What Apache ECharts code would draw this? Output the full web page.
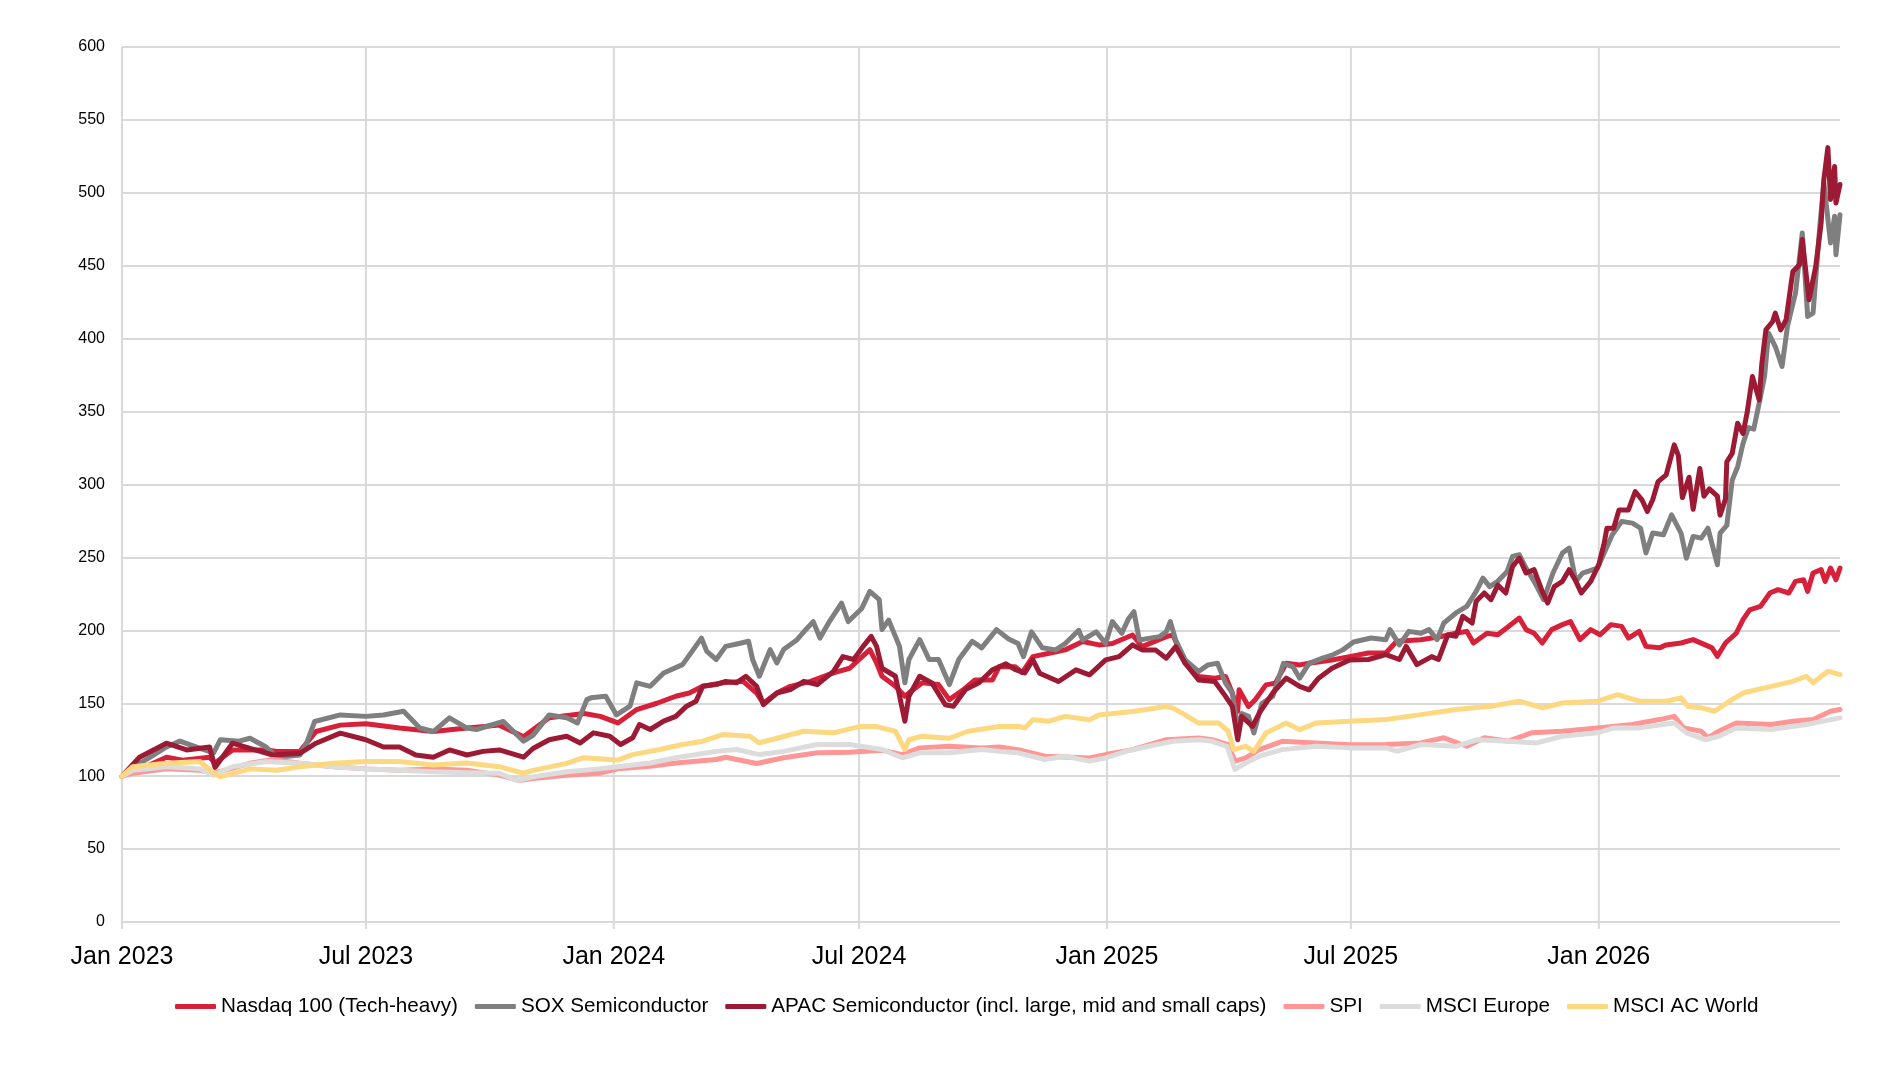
<!DOCTYPE html>
<html>
<head>
<meta charset="utf-8">
<title>Index performance</title>
<script src="https://cdn.jsdelivr.net/npm/echarts@6/dist/echarts.min.js"></script>
<style>
    html, body { margin: 0; padding: 0; background: #fff; }
    #chart { width: 1902px; height: 1066px; }
</style>
</head>
<body>
<div id="chart"></div>
<script>
var seriesNames = [
    'Nasdaq 100 (Tech-heavy)',
    'SOX Semiconductor',
    'APAC Semiconductor (incl. large, mid and small caps)',
    'SPI',
    'MSCI Europe',
    'MSCI AC World'
];

var seriesColors = ['#d7203a', '#7f7f7f', '#9c1a33', '#ff9696', '#dcdcdc', '#fcd881'];

var tickDates = ['2023-01-01', '2023-07-01', '2024-01-01', '2024-07-01', '2025-01-01', '2025-07-01', '2026-01-01'];
var tickLabels = ['Jan 2023', 'Jul 2023', 'Jan 2024', 'Jul 2024', 'Jan 2025', 'Jul 2025', 'Jan 2026'];

var nasdaq = [
    ['2023-01-01', 100], ['2023-01-09', 104], ['2023-01-22', 108], ['2023-02-03', 113], ['2023-02-15', 111],
    ['2023-03-07', 113], ['2023-03-11', 109], ['2023-03-24', 118], ['2023-04-18', 118], ['2023-04-26', 117],
    ['2023-05-13', 117], ['2023-05-25', 130.6], ['2023-06-12', 135], ['2023-07-01', 136], ['2023-07-26', 133],
    ['2023-08-20', 130.6], ['2023-09-14', 133], ['2023-10-08', 135], ['2023-10-26', 127], ['2023-11-14', 140],
    ['2023-12-10', 143], ['2023-12-22', 141],
    ['2024-01-04', 136.5], ['2024-01-18', 145.7], ['2024-02-02', 150], ['2024-02-16', 154.8], ['2024-02-26', 157],
    ['2024-03-07', 161.6], ['2024-03-22', 164], ['2024-04-06', 165], ['2024-04-16', 157], ['2024-04-21', 150],
    ['2024-05-01', 157], ['2024-05-11', 161.6], ['2024-05-26', 165], ['2024-06-12', 170.8], ['2024-06-24', 174],
    ['2024-07-09', 186.8], ['2024-07-14', 177.6], ['2024-07-18', 168.5], ['2024-07-28', 161.6], ['2024-08-04', 154.8],
    ['2024-08-07', 157], ['2024-08-17', 164], ['2024-08-29', 162.8], ['2024-09-06', 152.5], ['2024-09-16', 159],
    ['2024-09-25', 166], ['2024-10-08', 166], ['2024-10-13', 175], ['2024-10-25', 175], ['2024-10-30', 171],
    ['2024-11-07', 182], ['2024-11-19', 184.3], ['2024-12-01', 186.6], ['2024-12-14', 192.3], ['2024-12-26', 190],
    ['2025-01-05', 191], ['2025-01-20', 196.8], ['2025-01-27', 188.8], ['2025-02-14', 195.7], ['2025-02-19', 196.8],
    ['2025-02-28', 177.4], ['2025-03-10', 168.3], ['2025-03-22', 167.2], ['2025-03-30', 168.3], ['2025-04-04', 157],
    ['2025-04-08', 144.4], ['2025-04-09', 159.2], ['2025-04-16', 147.8], ['2025-04-21', 152.4], ['2025-04-29', 162.6],
    ['2025-05-06', 163.8], ['2025-05-14', 177.4], ['2025-05-24', 176.3], ['2025-05-31', 177.4], ['2025-06-17', 179.7],
    ['2025-06-30', 182], ['2025-07-14', 184.5], ['2025-07-27', 184.5], ['2025-08-04', 192.5], ['2025-08-22', 193.6],
    ['2025-09-07', 196], ['2025-09-17', 198], ['2025-09-25', 199.3], ['2025-09-30', 191.3], ['2025-10-10', 198],
    ['2025-10-18', 197], ['2025-10-26', 202.7], ['2025-11-03', 208.4], ['2025-11-08', 200.5], ['2025-11-14', 198],
    ['2025-11-20', 191.3], ['2025-11-27', 200.5], ['2025-12-05', 203.9], ['2025-12-11', 206], ['2025-12-18', 193.6],
    ['2025-12-26', 200.5],
    ['2026-01-02', 197], ['2026-01-10', 203.9], ['2026-01-18', 202.7], ['2026-01-23', 194.7], ['2026-01-31', 199.3],
    ['2026-02-05', 189], ['2026-02-15', 188], ['2026-02-20', 190], ['2026-03-03', 191.3], ['2026-03-12', 193.6],
    ['2026-03-21', 190], ['2026-03-26', 188], ['2026-03-30', 182.2], ['2026-04-05', 191.3], ['2026-04-13', 198],
    ['2026-04-18', 207.3], ['2026-04-23', 214], ['2026-05-01', 216.4], ['2026-05-08', 225.6], ['2026-05-14', 227.9],
    ['2026-05-22', 225.6], ['2026-05-27', 233.6], ['2026-06-02', 234.7], ['2026-06-05', 226.7], ['2026-06-09', 239.3],
    ['2026-06-15', 241.6], ['2026-06-18', 233.6], ['2026-06-22', 242.7], ['2026-06-26', 234.7], ['2026-06-29', 242.7]
];

var sox = [
    ['2023-01-01', 100], ['2023-01-09', 106], ['2023-01-22', 113], ['2023-02-03', 120], ['2023-02-13', 124],
    ['2023-02-28', 119], ['2023-03-10', 116], ['2023-03-15', 125], ['2023-03-29', 124], ['2023-04-06', 126],
    ['2023-04-18', 120], ['2023-04-26', 113], ['2023-05-13', 114.5], ['2023-05-18', 122.6], ['2023-05-24', 137.5],
    ['2023-06-12', 142], ['2023-07-01', 141], ['2023-07-14', 142], ['2023-07-29', 144.5], ['2023-08-10', 133],
    ['2023-08-20', 130.6], ['2023-09-01', 140], ['2023-09-14', 133], ['2023-09-21', 132], ['2023-10-11', 137.5],
    ['2023-10-26', 124], ['2023-11-02', 128], ['2023-11-14', 142], ['2023-11-27', 140], ['2023-12-05', 136.5],
    ['2023-12-12', 152.5], ['2023-12-15', 153.7], ['2023-12-26', 154.8],
    ['2024-01-03', 142], ['2024-01-13', 148], ['2024-01-18', 164], ['2024-01-28', 161.6], ['2024-02-07', 170.8],
    ['2024-02-21', 176.5], ['2024-02-29', 186.8], ['2024-03-06', 194.7], ['2024-03-10', 185.6], ['2024-03-17', 180],
    ['2024-03-24', 189], ['2024-04-03', 191], ['2024-04-10', 192.5], ['2024-04-13', 180], ['2024-04-18', 168.5],
    ['2024-04-26', 186.8], ['2024-05-01', 177.6], ['2024-05-06', 186.8], ['2024-05-16', 193.6], ['2024-05-21', 199],
    ['2024-05-28', 206], ['2024-06-02', 194.7], ['2024-06-09', 206], ['2024-06-18', 218.7], ['2024-06-23', 206],
    ['2024-07-03', 215], ['2024-07-09', 226.7], ['2024-07-16', 221], ['2024-07-18', 200.5], ['2024-07-23', 207],
    ['2024-07-31', 189], ['2024-08-04', 164], ['2024-08-07', 180], ['2024-08-15', 193.6], ['2024-08-22', 180],
    ['2024-08-29', 180], ['2024-09-06', 162.8], ['2024-09-13', 180], ['2024-09-23', 192.5], ['2024-09-30', 188],
    ['2024-10-11', 200.5], ['2024-10-20', 194], ['2024-10-27', 191], ['2024-10-31', 182], ['2024-11-06', 199],
    ['2024-11-14', 188], ['2024-11-24', 186.6], ['2024-12-01', 191], ['2024-12-11', 200], ['2024-12-14', 193.4],
    ['2024-12-24', 199], ['2024-12-31', 191],
    ['2025-01-05', 206], ['2025-01-12', 198], ['2025-01-17', 208], ['2025-01-21', 212.8], ['2025-01-25', 193.4],
    ['2025-02-01', 194.5], ['2025-02-09', 195.7], ['2025-02-14', 199], ['2025-02-17', 206], ['2025-02-21', 193.4],
    ['2025-02-28', 179.7], ['2025-03-10', 171.8], ['2025-03-17', 176.3], ['2025-03-24', 177.4], ['2025-03-30', 163.8],
    ['2025-04-04', 157], ['2025-04-08', 132], ['2025-04-11', 143], ['2025-04-16', 141], ['2025-04-20', 129.6],
    ['2025-04-26', 150], ['2025-05-04', 154.7], ['2025-05-12', 177.4], ['2025-05-19', 175], ['2025-05-24', 167.2],
    ['2025-05-31', 177.4], ['2025-06-10', 180.9], ['2025-06-17', 183], ['2025-06-25', 186.6], ['2025-07-03', 192],
    ['2025-07-16', 194.7], ['2025-07-27', 193.6], ['2025-07-30', 200.5], ['2025-08-06', 190], ['2025-08-13', 199.3],
    ['2025-08-22', 198], ['2025-08-28', 200.5], ['2025-09-03', 193.6], ['2025-09-08', 205], ['2025-09-17', 211.9],
    ['2025-09-25', 216.4], ['2025-10-02', 226.7], ['2025-10-07', 235.8], ['2025-10-12', 230], ['2025-10-18', 233.6],
    ['2025-10-25', 240.4], ['2025-10-29', 250.7], ['2025-11-03', 251.8], ['2025-11-08', 242.7], ['2025-11-14', 233.6],
    ['2025-11-21', 221], ['2025-11-28', 239.3], ['2025-12-05', 253], ['2025-12-10', 256.4], ['2025-12-15', 233.6],
    ['2025-12-20', 239.3], ['2025-12-31', 242.7],
    ['2026-01-05', 253], ['2026-01-11', 265.5], ['2026-01-18', 274.7], ['2026-01-26', 273.5], ['2026-02-01', 270],
    ['2026-02-05', 253], ['2026-02-10', 266.7], ['2026-02-18', 265.5], ['2026-02-24', 279.2], ['2026-03-03', 266.7],
    ['2026-03-07', 249.5], ['2026-03-12', 264.4], ['2026-03-18', 263.2], ['2026-03-23', 270], ['2026-03-30', 245],
    ['2026-04-01', 266.7], ['2026-04-06', 272], ['2026-04-10', 303], ['2026-04-14', 312], ['2026-04-18', 328],
    ['2026-04-22', 339], ['2026-04-26', 338], ['2026-04-30', 355.7], ['2026-05-04', 374], ['2026-05-07', 403.8],
    ['2026-05-12', 394.6], ['2026-05-17', 380.9], ['2026-05-21', 408.4], ['2026-05-27', 431.3], ['2026-06-01', 472.5],
    ['2026-06-05', 415.2], ['2026-06-09', 417.5], ['2026-06-14', 477], ['2026-06-17', 506.9], ['2026-06-22', 465.6],
    ['2026-06-25', 484], ['2026-06-26', 457.6], ['2026-06-29', 485]
];

var apac = [
    ['2023-01-01', 100], ['2023-01-14', 113], ['2023-02-03', 122.6], ['2023-02-18', 118], ['2023-03-07', 120],
    ['2023-03-11', 106], ['2023-03-24', 122.6], ['2023-04-06', 119], ['2023-04-23', 114.5], ['2023-05-13', 115.7],
    ['2023-05-25', 122.6], ['2023-06-12', 129.5], ['2023-07-01', 125], ['2023-07-14', 120], ['2023-07-26', 120],
    ['2023-08-07', 114.5], ['2023-08-20', 113], ['2023-09-01', 118], ['2023-09-14', 114.5], ['2023-09-26', 117],
    ['2023-10-08', 118], ['2023-10-26', 113], ['2023-11-02', 119], ['2023-11-14', 125], ['2023-11-27', 127.4],
    ['2023-12-07', 122.8], ['2023-12-17', 129.7], ['2023-12-29', 127.4],
    ['2024-01-06', 121.7], ['2024-01-15', 126.3], ['2024-01-20', 135.4], ['2024-01-28', 132], ['2024-02-07', 137.7],
    ['2024-02-16', 141], ['2024-02-24', 148], ['2024-03-02', 151.4], ['2024-03-07', 161.6], ['2024-03-17', 162.8],
    ['2024-03-24', 165], ['2024-04-01', 164], ['2024-04-08', 168.5], ['2024-04-16', 161.6], ['2024-04-21', 149],
    ['2024-05-01', 157], ['2024-05-11', 159.4], ['2024-05-21', 165], ['2024-05-31', 162.8], ['2024-06-12', 171.9],
    ['2024-06-19', 182], ['2024-06-27', 180], ['2024-07-04', 189], ['2024-07-10', 195.9], ['2024-07-14', 189],
    ['2024-07-18', 174], ['2024-07-28', 168.5], ['2024-08-04', 137.7], ['2024-08-07', 154.8], ['2024-08-15', 168.5],
    ['2024-08-24', 164], ['2024-09-03', 149], ['2024-09-09', 148], ['2024-09-18', 159.4], ['2024-09-28', 164],
    ['2024-10-08', 173], ['2024-10-18', 177], ['2024-10-25', 173], ['2024-11-01', 170.8], ['2024-11-07', 179.7],
    ['2024-11-12', 170.6], ['2024-11-26', 164.9], ['2024-12-09', 172.9], ['2024-12-19', 169.5], ['2024-12-31', 179.7],
    ['2025-01-10', 182], ['2025-01-20', 190], ['2025-01-27', 186.6], ['2025-02-06', 186.6], ['2025-02-14', 180.9],
    ['2025-02-21', 188.8], ['2025-02-28', 177.4], ['2025-03-10', 166], ['2025-03-22', 164.9], ['2025-03-30', 154.7],
    ['2025-04-04', 147.8], ['2025-04-08', 125], ['2025-04-11', 141], ['2025-04-19', 134.2], ['2025-04-24', 143.3],
    ['2025-05-04', 157], ['2025-05-14', 167.2], ['2025-05-24', 161.5], ['2025-05-31', 159.2], ['2025-06-07', 167.2],
    ['2025-06-17', 174], ['2025-06-30', 179.7], ['2025-07-14', 180], ['2025-07-27', 183.3], ['2025-08-06', 180],
    ['2025-08-11', 189], ['2025-08-19', 176.5], ['2025-08-30', 182], ['2025-09-04', 180], ['2025-09-11', 197],
    ['2025-09-17', 196], ['2025-09-22', 209.6], ['2025-09-29', 205], ['2025-10-02', 220], ['2025-10-08', 225.6],
    ['2025-10-13', 221], ['2025-10-18', 231], ['2025-10-24', 225.6], ['2025-10-29', 243.8], ['2025-11-03', 249.5],
    ['2025-11-08', 239.3], ['2025-11-14', 241.6], ['2025-11-20', 226.7], ['2025-11-24', 218.7], ['2025-11-29', 230],
    ['2025-12-05', 233.6], ['2025-12-10', 241.6], ['2025-12-15', 233.6], ['2025-12-19', 225.6], ['2025-12-26', 233.6],
    ['2026-01-01', 245], ['2026-01-05', 259.8], ['2026-01-07', 270], ['2026-01-12', 270], ['2026-01-16', 282.6],
    ['2026-01-23', 282.6], ['2026-01-28', 295.2], ['2026-02-02', 289.5], ['2026-02-06', 281.5], ['2026-02-10', 289.5],
    ['2026-02-14', 302], ['2026-02-20', 306.6], ['2026-02-26', 327.2], ['2026-03-01', 320], ['2026-03-04', 291],
    ['2026-03-09', 305], ['2026-03-12', 283], ['2026-03-17', 311], ['2026-03-20', 292], ['2026-03-24', 297],
    ['2026-03-30', 292], ['2026-04-01', 279], ['2026-04-05', 290], ['2026-04-06', 315.6], ['2026-04-10', 321.3],
    ['2026-04-14', 342], ['2026-04-18', 335], ['2026-04-21', 348.8], ['2026-04-25', 374], ['2026-04-30', 358],
    ['2026-05-02', 383], ['2026-05-05', 406], ['2026-05-10', 411.8], ['2026-05-12', 417.5], ['2026-05-16', 406],
    ['2026-05-20', 413], ['2026-05-25', 446], ['2026-05-30', 450.7], ['2026-06-01', 468], ['2026-06-06', 426.7],
    ['2026-06-11', 449.6], ['2026-06-15', 479.4], ['2026-06-17', 509], ['2026-06-20', 531], ['2026-06-22', 495.4],
    ['2026-06-25', 518], ['2026-06-26', 493], ['2026-06-29', 505.7]
];

var spi = [
    ['2023-01-01', 100], ['2023-01-09', 102], ['2023-02-03', 105], ['2023-02-28', 104], ['2023-03-10', 102],
    ['2023-04-06', 108.8], ['2023-04-23', 111.5], ['2023-05-13', 108.8], ['2023-06-07', 106.5], ['2023-07-01', 105],
    ['2023-07-26', 104], ['2023-08-20', 105], ['2023-09-14', 104], ['2023-10-08', 100.7], ['2023-10-23', 97],
    ['2023-11-02', 98.4], ['2023-11-27', 100.7], ['2023-12-21', 102],
    ['2024-01-04', 105], ['2024-01-28', 106.8], ['2024-02-16', 109], ['2024-03-17', 111.4], ['2024-03-24', 113],
    ['2024-04-16', 108.7], ['2024-05-06', 112.6], ['2024-05-31', 116], ['2024-06-24', 116.4], ['2024-07-18', 117.8],
    ['2024-08-02', 114.8], ['2024-08-15', 119.4], ['2024-09-06', 120.5], ['2024-09-30', 119.4], ['2024-10-13', 120],
    ['2024-10-27', 118.2], ['2024-11-16', 113.7], ['2024-12-19', 112.5], ['2024-12-31', 114.8],
    ['2025-01-20', 118.2], ['2025-02-14', 125], ['2025-03-10', 126.2], ['2025-03-20', 125], ['2025-04-01', 121.6],
    ['2025-04-06', 110.3], ['2025-04-14', 112.5], ['2025-04-24', 118.2], ['2025-05-11', 123.9], ['2025-06-05', 122.8],
    ['2025-06-30', 121.6], ['2025-07-27', 121.7], ['2025-08-22', 122.8], ['2025-09-08', 126.3], ['2025-09-25', 120.5],
    ['2025-10-08', 126.3], ['2025-10-26', 124], ['2025-11-12', 129.7], ['2025-12-05', 130.8], ['2025-12-31', 133.1],
    ['2026-01-26', 135.4], ['2026-02-15', 138.8], ['2026-02-26', 141], ['2026-03-05', 133.1], ['2026-03-18', 130.8],
    ['2026-03-23', 126.3], ['2026-03-31', 130.8], ['2026-04-13', 136.5], ['2026-05-09', 135.4], ['2026-05-25', 137.7],
    ['2026-06-09', 138.8], ['2026-06-22', 144.5], ['2026-06-29', 145.7]
];

var msciEurope = [
    ['2023-01-01', 100], ['2023-01-09', 104], ['2023-02-03', 106.5], ['2023-02-28', 105], ['2023-03-10', 100.7],
    ['2023-03-24', 106.5], ['2023-04-18', 110], ['2023-05-13', 108.8], ['2023-06-07', 106.5], ['2023-07-01', 105],
    ['2023-07-26', 104], ['2023-08-20', 103], ['2023-09-14', 102.3], ['2023-10-08', 102], ['2023-10-21', 97],
    ['2023-11-02', 99.5], ['2023-11-27', 103], ['2023-12-21', 105],
    ['2024-01-04', 106.4], ['2024-01-28', 109], ['2024-02-16', 112.6], ['2024-03-17', 117], ['2024-04-01', 118.3],
    ['2024-04-18', 114.8], ['2024-05-06', 117], ['2024-05-31', 121.7], ['2024-06-24', 121.7], ['2024-07-18', 118.3],
    ['2024-08-02', 112.6], ['2024-08-15', 116], ['2024-09-06', 116], ['2024-09-30', 118.3], ['2024-10-13', 117],
    ['2024-10-27', 116], ['2024-11-16', 111.4], ['2024-12-01', 113.7], ['2024-12-19', 110.3], ['2024-12-31', 112.5],
    ['2025-01-15', 117], ['2025-02-01', 120.5], ['2025-02-19', 123.9], ['2025-03-10', 125], ['2025-03-20', 123.9],
    ['2025-03-31', 120.5], ['2025-04-06', 104.6], ['2025-04-14', 109.1], ['2025-04-24', 113.7], ['2025-05-11', 118.2],
    ['2025-06-05', 120.5], ['2025-06-30', 119.4], ['2025-07-27', 119.4], ['2025-08-04', 117.1], ['2025-08-22', 121.7],
    ['2025-09-17', 120.5], ['2025-10-03', 125], ['2025-10-26', 124], ['2025-11-16', 122.8], ['2025-12-05', 127.4],
    ['2025-12-31', 129.7], ['2026-01-12', 133.1], ['2026-01-31', 133.1], ['2026-02-26', 136.5], ['2026-03-07', 129.7],
    ['2026-03-21', 125], ['2026-03-31', 127.4], ['2026-04-13', 133.1], ['2026-05-09', 132], ['2026-06-04', 135.4],
    ['2026-06-29', 140]
];

var msciWorld = [
    ['2023-01-01', 100], ['2023-01-09', 106.5], ['2023-02-03', 108.8], ['2023-02-28', 110], ['2023-03-10', 102],
    ['2023-03-15', 99.5], ['2023-04-06', 105], ['2023-04-26', 104], ['2023-05-13', 106.5], ['2023-06-07', 108.8],
    ['2023-07-01', 110], ['2023-07-26', 110], ['2023-08-20', 107.6], ['2023-09-14', 109], ['2023-10-08', 106.5],
    ['2023-10-26', 102], ['2023-11-02', 104], ['2023-11-27', 108.8], ['2023-12-09', 112.6], ['2023-12-21', 112],
    ['2024-01-04', 111], ['2024-01-15', 114.8], ['2024-02-04', 118.3], ['2024-02-21', 121.7], ['2024-03-07', 124],
    ['2024-03-22', 128.5], ['2024-04-11', 127.4], ['2024-04-18', 122.8], ['2024-05-01', 126], ['2024-05-21', 130.8],
    ['2024-06-12', 129.7], ['2024-07-01', 134], ['2024-07-14', 134], ['2024-07-28', 130.8], ['2024-08-04', 118.3],
    ['2024-08-07', 125], ['2024-08-17', 127.4], ['2024-09-06', 126], ['2024-09-20', 130.8], ['2024-10-13', 134],
    ['2024-10-27', 134.2], ['2024-11-01', 133], ['2024-11-07', 138.7], ['2024-11-19', 137.7], ['2024-12-01', 141],
    ['2024-12-19', 138.7], ['2024-12-26', 142],
    ['2025-01-20', 144.4], ['2025-02-14', 147.8], ['2025-02-19', 146.7], ['2025-02-28', 142], ['2025-03-10', 136.4],
    ['2025-03-25', 136.4], ['2025-04-01', 130.8], ['2025-04-05', 118.2], ['2025-04-14', 120.5], ['2025-04-20', 117],
    ['2025-04-29', 129.6], ['2025-05-14', 136.4], ['2025-05-24', 131.9], ['2025-06-05', 136.4], ['2025-06-30', 137.6],
    ['2025-07-27', 138.8], ['2025-08-22', 142.2], ['2025-09-17', 145.7], ['2025-10-13', 148], ['2025-11-03', 151.4],
    ['2025-11-20', 146.8], ['2025-12-05', 150.2], ['2025-12-31', 151.4], ['2026-01-15', 155.9], ['2026-01-31', 151.4],
    ['2026-02-20', 151.4], ['2026-03-03', 153.7], ['2026-03-08', 148], ['2026-03-18', 146.8], ['2026-03-28', 144.5],
    ['2026-04-08', 151.4], ['2026-04-18', 157], ['2026-05-09', 161.6], ['2026-05-25', 165], ['2026-06-04', 168.5],
    ['2026-06-09', 164], ['2026-06-20', 172], ['2026-06-29', 169.6]
];

var seriesData = [nasdaq, sox, apac, spi, msciEurope, msciWorld];

var gridColor = '#d9d9d9';
var labelFont = 'Liberation Sans, Arial, sans-serif';

// vertical grid lines, ticks and date labels at Jan / Jul
function renderDateTick(params, api) {
    var top = api.coord([api.value(0), 600]);
    var bottom = api.coord([api.value(0), 0]);
    return {
        type: 'group',
        children: [{
            type: 'line',
            shape: { x1: top[0], y1: top[1], x2: bottom[0], y2: bottom[1] + 7 },
            style: { stroke: gridColor, lineWidth: 2 }
        }, {
            type: 'text',
            x: bottom[0],
            y: bottom[1] + 35,
            style: {
                text: tickLabels[params.dataIndex],
                fill: '#000',
                font: '25px ' + labelFont,
                align: 'center',
                verticalAlign: 'middle'
            }
        }]
    };
}

var lineSeries = seriesNames.map(function (name, i) {
    return {
        name: name,
        type: 'line',
        data: seriesData[i],
        showSymbol: false,
        symbol: 'none',
        z: 3,
        lineStyle: { width: 5, color: seriesColors[i], cap: 'round', join: 'round' },
        itemStyle: { color: seriesColors[i] }
    };
});

var option = {
    animation: false,
    grid: {
        left: 122,
        right: 62,
        top: 47,
        bottom: 144
    },
    legend: {
        data: seriesNames,
        top: 991,
        left: 170,
        icon: 'roundRect',
        itemWidth: 41,
        itemHeight: 5,
        itemGap: 17,
        textStyle: { color: '#000', fontSize: 20.7, fontFamily: labelFont }
    },
    xAxis: {
        type: 'time',
        min: '2023-01-01',
        max: '2026-06-29',
        axisLine: { show: false },
        axisTick: { show: false },
        axisLabel: { show: false },
        splitLine: { show: false }
    },
    yAxis: {
        type: 'value',
        min: 0,
        max: 600,
        interval: 50,
        axisLine: { show: false },
        axisTick: { show: false },
        axisLabel: { color: '#000', fontSize: 16, fontFamily: labelFont, margin: 17 },
        splitLine: { lineStyle: { color: gridColor, width: 2 } }
    },
    series: [{
        type: 'custom',
        z: 1,
        silent: true,
        renderItem: renderDateTick,
        data: tickDates.map(function (d) { return [d, 0]; })
    }].concat(lineSeries)
};

var chart = echarts.init(document.getElementById('chart'));
chart.setOption(option);
</script>
</body>
</html>
